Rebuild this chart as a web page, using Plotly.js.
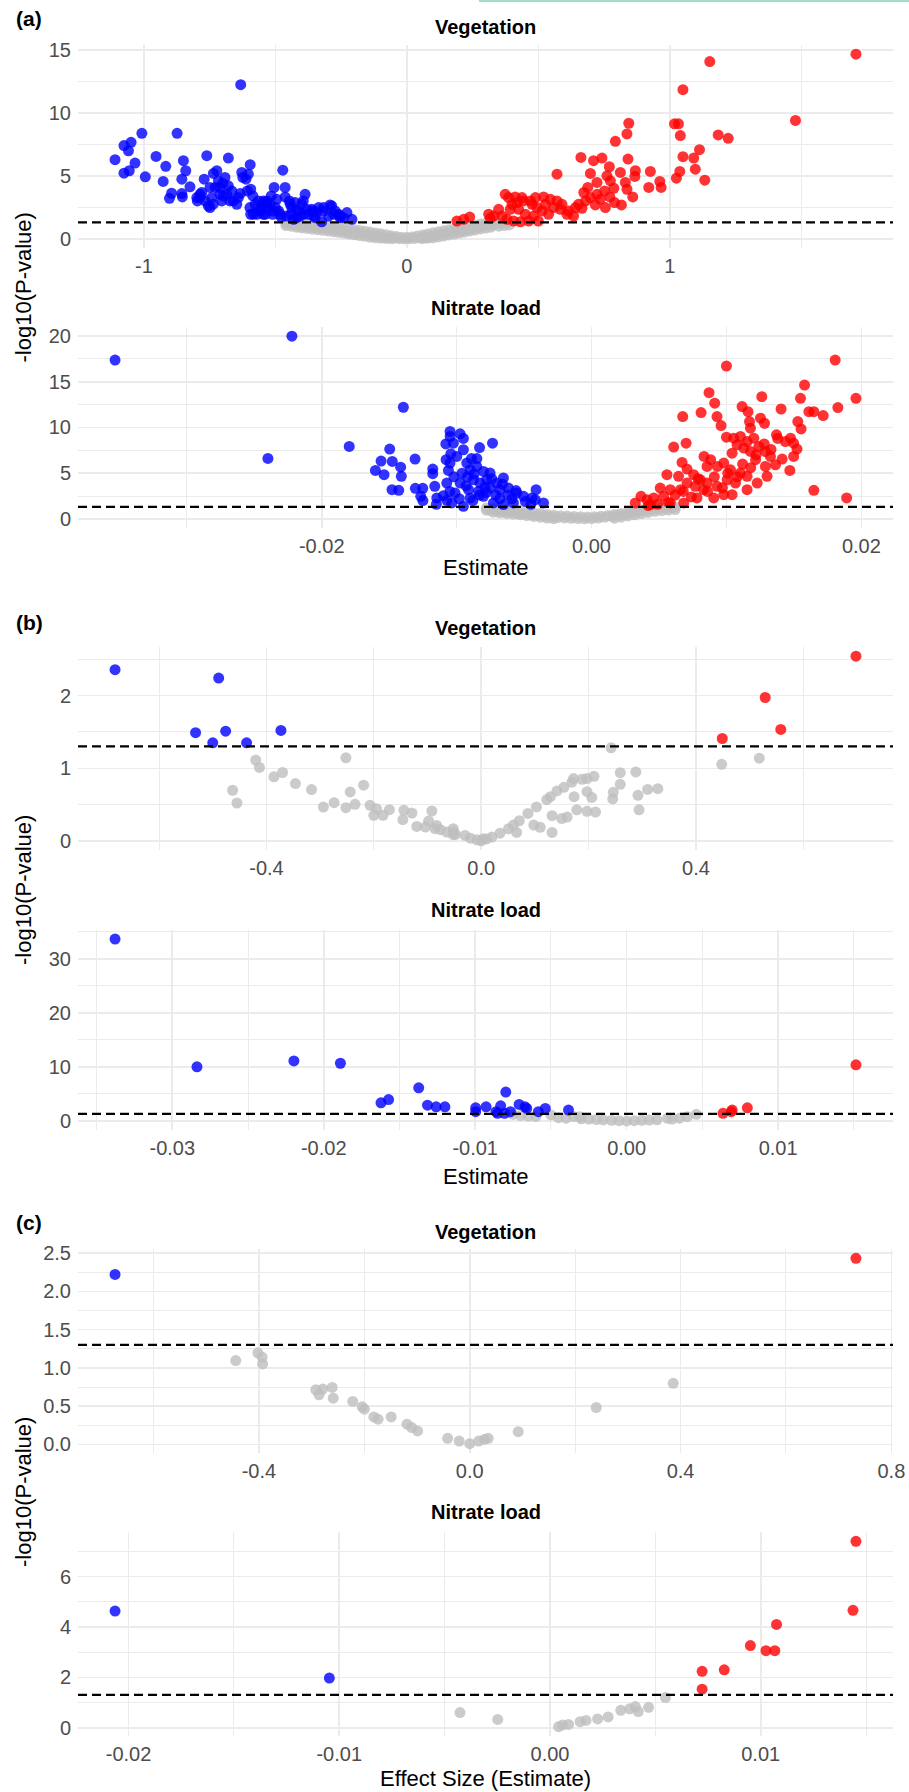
<!DOCTYPE html>
<html><head><meta charset="utf-8">
<script src="https://cdn.plot.ly/plotly-3.0.1.min.js"></script>
<style>html,body{margin:0;padding:0;background:#fff}#chart{width:909px;height:1792px}</style>
</head><body><div id="chart"></div>
<script>
// significance threshold (p = 0.05)
const THRESH = -Math.log10(0.05);

// ---------- (a) Vegetation ----------
const A_VEG_DOWN = [[-1.110,6.29],[-1.076,5.22],[-1.076,7.41],[-1.049,7.67],[-1.059,7.00],[-1.056,5.41],[-1.034,6.02],[-1.008,8.39],[-0.995,4.93],[-0.954,6.55],[-0.927,4.56],[-0.917,5.76],[-0.903,3.22],[-0.895,3.62],[-0.874,8.39],[-0.856,3.60],[-0.854,3.33],[-0.850,6.21],[-0.841,5.41],[-0.856,4.74],[-0.825,4.13],[-0.799,3.28],[-0.797,3.01],[-0.771,4.74],[-0.761,6.61],[-0.780,3.68],[-0.755,2.61],[-0.749,2.48],[-0.736,5.20],[-0.723,5.41],[-0.717,4.61],[-0.711,4.08],[-0.704,3.01],[-0.698,3.41],[-0.692,4.88],[-0.679,4.21],[-0.679,6.42],[-0.660,3.01],[-0.647,2.74],[-0.634,3.60],[-0.632,12.26],[-0.628,5.28],[-0.612,4.74],[-0.603,5.14],[-0.596,5.89],[-0.594,3.94],[-0.586,3.41],[-0.594,1.95],[-0.577,2.74],[-0.571,1.95],[-0.558,2.34],[-0.546,3.01],[-0.539,1.95],[-0.533,2.48],[-0.520,2.74],[-0.510,1.95],[-0.505,4.08],[-0.495,3.14],[-0.488,2.21],[-0.472,5.46],[-0.463,4.08],[-0.463,3.33],[-0.457,1.81],[-0.447,3.01],[-0.438,2.48],[-0.431,1.55],[-0.425,2.88],[-0.412,2.21],[-0.400,2.74],[-0.387,3.54],[-0.393,1.95],[-0.374,1.95],[-0.362,2.34],[-0.349,1.68],[-0.336,2.48],[-0.324,1.35],[-0.317,2.21],[-0.292,2.69],[-0.279,1.95],[-0.260,1.95],[-0.241,1.68],[-0.209,1.55],[-0.228,2.08],[-0.254,1.68],[-0.273,2.21],[-0.298,1.81],[-0.343,2.08],[-0.355,1.81],[-0.381,2.34],[-0.406,1.81],[-0.419,1.68],[-0.440,1.95],[-0.478,1.73],[-0.500,2.48],[-0.516,3.41],[-0.533,3.01],[-0.552,2.61],[-0.565,3.01],[-0.584,1.95],[-0.607,3.81],[-0.624,4.88],[-0.641,3.28],[-0.666,3.81],[-0.685,3.54],[-0.700,4.40],[-0.729,4.08],[-0.742,3.28],[-0.768,3.01],[-0.787,3.54],[-0.597,2.48],[-0.558,2.21],[-0.533,2.75],[-0.482,1.95],[-0.444,2.75],[-0.419,2.21],[-0.394,3.01],[-0.356,2.21],[-0.317,2.48],[-0.286,2.61],[-0.254,1.81],[-0.736,2.75],[-0.711,3.55],[-0.673,3.01],[-0.749,4.08],[-0.787,3.28],[-0.546,1.95],[-0.508,2.21]];
const A_VEG_UP = [[1.708,14.68],[1.152,14.10],[1.050,11.86],[1.478,9.41],[0.844,9.19],[0.837,8.34],[1.018,9.14],[1.033,9.14],[1.040,8.21],[1.184,8.26],[1.222,7.99],[0.793,7.75],[1.113,7.09],[1.050,6.53],[1.091,6.42],[0.662,6.47],[0.710,6.21],[0.742,6.42],[0.841,6.34],[0.770,5.73],[1.097,5.54],[1.038,5.36],[0.571,5.14],[0.698,5.20],[0.812,5.28],[0.869,5.41],[0.926,5.36],[1.025,4.82],[1.133,4.66],[0.761,5.01],[0.774,4.61],[0.723,4.48],[0.831,4.48],[0.867,4.96],[0.962,4.56],[0.967,4.08],[0.920,4.08],[0.688,4.08],[0.673,3.68],[0.787,4.02],[0.752,3.81],[0.837,3.94],[0.859,3.33],[0.723,3.54],[0.698,3.28],[0.717,2.69],[0.755,2.48],[0.790,2.88],[0.816,2.69],[0.653,2.74],[0.666,2.42],[0.634,1.81],[0.615,2.21],[0.374,3.54],[0.387,3.28],[0.412,3.33],[0.438,3.28],[0.470,3.01],[0.489,3.28],[0.520,3.33],[0.546,3.14],[0.571,3.01],[0.590,2.74],[0.349,2.34],[0.330,1.81],[0.362,1.81],[0.400,2.74],[0.425,2.34],[0.450,1.95],[0.463,1.41],[0.482,1.81],[0.500,1.41],[0.514,2.21],[0.539,1.95],[0.558,2.48],[0.527,2.74],[0.495,2.48],[0.476,2.74],[0.444,3.01],[0.419,2.88],[0.393,2.34],[0.311,1.95],[0.317,1.63],[0.239,1.73],[0.190,1.41],[0.216,1.55],[0.381,1.55],[0.406,1.41],[0.432,1.35],[0.609,1.95],[0.584,2.34],[0.641,2.48],[0.680,3.01],[0.736,3.14],[0.772,3.33]];
const A_VEG_NS = [[-0.46,1.25],[-0.46,1.05],[-0.44,1.35],[-0.45,1.2],[-0.44,1.0],[-0.42,1.3],[-0.43,1.12],[-0.42,0.92],[-0.40,1.27],[-0.41,1.07],[-0.40,0.87],[-0.38,1.22],[-0.39,1.02],[-0.38,0.82],[-0.36,1.17],[-0.37,0.97],[-0.36,0.77],[-0.34,1.12],[-0.35,0.92],[-0.34,0.72],[-0.32,1.07],[-0.33,0.87],[-0.32,0.67],[-0.30,1.02],[-0.31,0.82],[-0.30,0.62],[-0.28,0.96],[-0.29,0.76],[-0.28,0.56],[-0.26,0.91],[-0.27,0.71],[-0.26,0.51],[-0.24,0.85],[-0.25,0.65],[-0.24,0.45],[-0.22,0.78],[-0.23,0.58],[-0.22,0.38],[-0.20,0.72],[-0.21,0.52],[-0.20,0.32],[-0.18,0.66],[-0.19,0.46],[-0.18,0.26],[-0.16,0.6],[-0.17,0.4],[-0.16,0.2],[-0.14,0.53],[-0.15,0.33],[-0.14,0.13],[-0.12,0.46],[-0.13,0.26],[-0.12,0.08],[-0.10,0.4],[-0.11,0.2],[-0.10,0.05],[-0.08,0.32],[-0.09,0.14],[-0.08,0.03],[-0.06,0.25],[-0.07,0.09],[-0.06,0.02],[-0.04,0.18],[-0.05,0.05],[-0.02,0.12],[-0.03,0.02],[0.0,0.1],[-0.01,0.0],[0.01,0.01],[0.02,0.15],[0.03,0.03],[0.04,0.22],[0.05,0.07],[0.06,0.3],[0.07,0.12],[0.06,0.02],[0.08,0.38],[0.09,0.19],[0.08,0.05],[0.10,0.47],[0.11,0.27],[0.10,0.08],[0.12,0.55],[0.13,0.35],[0.12,0.15],[0.14,0.63],[0.15,0.43],[0.14,0.23],[0.16,0.71],[0.17,0.51],[0.16,0.31],[0.18,0.78],[0.19,0.58],[0.18,0.38],[0.20,0.86],[0.21,0.66],[0.20,0.46],[0.22,0.94],[0.23,0.74],[0.22,0.54],[0.24,1.02],[0.25,0.82],[0.24,0.62],[0.26,1.1],[0.27,0.9],[0.26,0.7],[0.28,1.18],[0.29,0.98],[0.28,0.78],[0.30,1.25],[0.31,1.05],[0.30,0.85],[0.32,1.3],[0.33,1.12],[0.32,0.92],[0.34,1.18],[0.35,1.0],[0.36,1.22],[0.37,1.05],[0.38,1.26],[0.39,1.1]];

// ---------- (a) Nitrate load ----------
const A_NIT_DOWN = [[-0.03532,17.37],[-0.02221,19.99],[-0.02399,6.61],[-0.01796,7.92],[-0.01395,12.21],[-0.01496,7.63],[-0.0156,6.32],[-0.01602,5.3],[-0.01538,4.83],[-0.01477,6.28],[-0.01415,5.66],[-0.0141,4.65],[-0.01479,3.19],[-0.01429,3.12],[-0.01308,6.54],[-0.01306,3.34],[-0.01251,3.34],[-0.01266,2.47],[-0.01177,5.45],[-0.01177,4.94],[-0.01162,3.56],[-0.01147,2.29],[-0.01073,2.03],[-0.01048,9.01],[-0.01043,7.12],[-0.01078,6.47],[-0.01061,5.3],[-0.01073,3.92],[-0.01098,2.54],[-0.01049,9.56],[-0.00974,9.3],[-0.01024,8.28],[-0.0095,7.56],[-0.00999,6.83],[-0.00925,6.1],[-0.01049,6.1],[-0.009,5.37],[-0.00851,5.74],[-0.00801,5.19],[-0.00752,5.01],[-0.00734,8.28],[-0.00875,4.28],[-0.00826,3.92],[-0.00777,4.28],[-0.00702,3.92],[-0.00653,4.47],[-0.00678,3.19],[-0.00616,3.37],[-0.00554,2.83],[-0.00504,2.47],[-0.00411,3.19],[-0.00442,2.29],[-0.00417,2.1],[-0.00356,1.74],[-0.00974,3.92],[-0.01012,2.83],[-0.0095,1.38],[-0.009,2.29],[-0.00801,2.47],[-0.00727,1.74],[-0.00653,1.56],[-0.00579,1.74],[-0.01036,1.74],[-0.00912,3.19],[-0.00838,3.01],[-0.00752,3.37],[-0.0092,4.6],[-0.0085,6.6],[-0.0095,8.8],[-0.0088,2.0],[-0.0078,2.9],[-0.0068,2.2],[-0.0062,2.6],[-0.0045,1.6],[-0.0102,4.6],[-0.0115,1.6],[-0.0125,2.0],[-0.0105,3.0],[-0.0098,2.2],[-0.0093,3.6],[-0.0087,4.9],[-0.0083,2.6],[-0.0079,3.5],[-0.0074,4.4],[-0.0071,2.6],[-0.0066,3.8],[-0.0059,2.2],[-0.0056,3.1],[-0.0049,1.9],[-0.0096,5.0],[-0.0089,6.6],[-0.0083,7.8],[-0.0108,8.2]];
const A_NIT_UP = [[0.01,16.72],[0.01806,17.37],[0.01579,14.64],[0.0196,13.19],[0.01549,13.19],[0.01262,13.37],[0.00871,13.81],[0.00913,12.65],[0.00676,11.19],[0.00812,11.63],[0.0093,11.19],[0.0096,10.21],[0.01116,12.28],[0.0116,11.73],[0.01405,12.02],[0.01611,11.73],[0.01648,11.73],[0.01717,11.3],[0.01826,12.17],[0.01252,11.01],[0.01282,10.46],[0.01171,10.64],[0.01178,9.92],[0.01529,10.64],[0.01553,9.84],[0.01371,9.19],[0.01475,8.83],[0.01437,8.46],[0.01498,8.28],[0.01523,7.63],[0.01498,6.83],[0.01413,6.54],[0.0147,5.3],[0.01,8.94],[0.01054,8.83],[0.01104,9.01],[0.01153,8.46],[0.01203,8.83],[0.0124,7.92],[0.01289,7.38],[0.01326,6.83],[0.01363,5.92],[0.01289,5.74],[0.01216,6.47],[0.01178,7.38],[0.01129,7.74],[0.01079,8.1],[0.01042,7.19],[0.0098,6.1],[0.0103,5.37],[0.01104,5.01],[0.01153,4.65],[0.01228,3.92],[0.01153,3.19],[0.00609,7.85],[0.00701,8.28],[0.00671,6.17],[0.00708,5.45],[0.00834,6.83],[0.00883,6.47],[0.00933,5.74],[0.00559,4.83],[0.00645,4.65],[0.00757,4.83],[0.00806,4.28],[0.00856,3.92],[0.0093,3.56],[0.01005,4.28],[0.01067,3.92],[0.01042,2.65],[0.0098,2.65],[0.00906,2.29],[0.00831,3.19],[0.00769,3.56],[0.00708,3.92],[0.0066,3.19],[0.00584,3.19],[0.00509,3.37],[0.00534,2.47],[0.00461,2.29],[0.00411,2.1],[0.00367,2.47],[0.00324,1.74],[0.00436,1.56],[0.00584,1.74],[0.00683,1.74],[0.00782,2.29],[0.01648,3.12],[0.01891,2.29],[0.00856,5.74],[0.01301,4.65],[0.0062,2.6],[0.0068,3.0],[0.0074,2.4],[0.0079,4.4],[0.0086,3.0],[0.0091,4.6],[0.0097,3.4],[0.0101,5.0],[0.0108,4.6],[0.0112,6.0],[0.0118,5.6],[0.0122,7.0],[0.0128,8.2],[0.0133,7.6],[0.0138,8.8],[0.0057,1.8],[0.0049,1.6],[0.0042,1.45]];
const A_NIT_NS = [[-0.0078,1.2],[-0.0078,0.95],[-0.0073,1.13],[-0.0075,0.93],[-0.0073,0.73],[-0.0068,1.06],[-0.007,0.86],[-0.0068,0.66],[-0.0063,0.99],[-0.0065,0.79],[-0.0063,0.59],[-0.0058,0.92],[-0.006,0.72],[-0.0058,0.52],[-0.0053,0.85],[-0.0055,0.65],[-0.0053,0.45],[-0.0048,0.76],[-0.005,0.56],[-0.0048,0.36],[-0.0043,0.67],[-0.0045,0.47],[-0.0043,0.27],[-0.0038,0.58],[-0.004,0.38],[-0.0038,0.18],[-0.0033,0.49],[-0.0035,0.29],[-0.0033,0.09],[-0.0028,0.4],[-0.003,0.2],[-0.0028,0.02],[-0.0023,0.35],[-0.0025,0.15],[-0.0018,0.3],[-0.002,0.1],[-0.0013,0.26],[-0.0015,0.06],[-0.0008,0.23],[-0.001,0.03],[-0.0003,0.2],[-0.0005,0.0],[0.0002,0.23],[0.0,0.03],[0.0007,0.29],[0.0005,0.09],[0.0012,0.38],[0.001,0.18],[0.0017,0.48],[0.0015,0.28],[0.0017,0.08],[0.0022,0.59],[0.002,0.39],[0.0022,0.19],[0.0027,0.72],[0.0025,0.52],[0.0027,0.32],[0.0032,0.85],[0.003,0.65],[0.0032,0.45],[0.0037,0.98],[0.0035,0.78],[0.0037,0.58],[0.0042,1.1],[0.004,0.9],[0.0042,0.7],[0.0047,1.22],[0.0045,1.02],[0.0047,0.82],[0.0052,1.25],[0.005,1.1],[0.0052,0.9],[0.0057,1.28],[0.0055,1.16],[0.0057,0.96],[0.0062,1.3],[0.006,1.22],[0.0062,1.02]];

// ---------- (b) Vegetation ----------
const B_VEG_DOWN = [[-0.682,2.355],[-0.489,2.24],[-0.532,1.49],[-0.476,1.51],[-0.5,1.35],[-0.437,1.35],[-0.373,1.52]];
const B_VEG_UP = [[0.698,2.54],[0.529,1.973],[0.558,1.535],[0.449,1.41]];
const B_VEG_NS = [[0.448,1.055],[0.518,1.14],[0.242,1.283],[0.259,0.94],[0.288,0.95],[0.259,0.78],[0.246,0.67],[0.245,0.58],[0.292,0.63],[0.31,0.71],[0.329,0.72],[0.294,0.43],[0.21,0.89],[0.197,0.86],[0.188,0.85],[0.172,0.86],[0.169,0.81],[0.154,0.74],[0.141,0.69],[0.129,0.61],[0.122,0.57],[0.197,0.68],[0.206,0.6],[0.173,0.61],[0.213,0.4],[0.197,0.41],[0.178,0.43],[0.16,0.33],[0.15,0.31],[0.132,0.35],[0.132,0.12],[0.11,0.19],[0.098,0.22],[0.103,0.47],[0.087,0.38],[0.071,0.28],[0.06,0.22],[0.066,0.12],[0.051,0.17],[0.035,0.11],[0.02,0.056],[0.004,0.033],[-0.008,0.019],[0.0,0.005],[-0.03,0.079],[-0.052,0.125],[-0.052,0.088],[-0.42,1.113],[-0.413,1.012],[-0.463,0.699],[-0.455,0.524],[-0.386,0.883],[-0.37,0.943],[-0.346,0.791],[-0.316,0.708],[-0.294,0.469],[-0.274,0.529],[-0.252,1.145],[-0.244,0.676],[-0.219,0.768],[-0.252,0.46],[-0.235,0.506],[-0.207,0.492],[-0.195,0.446],[-0.2,0.354],[-0.183,0.354],[-0.171,0.432],[-0.144,0.423],[-0.129,0.386],[-0.146,0.295],[-0.092,0.414],[-0.12,0.202],[-0.098,0.276],[-0.104,0.193],[-0.083,0.216],[-0.076,0.157],[-0.064,0.125],[-0.052,0.171],[-0.048,0.092],[-0.086,0.171],[-0.02,0.04],[0.01,0.03]];

// ---------- (b) Nitrate load ----------
const B_NIT_DOWN = [[-0.03378,33.64],[-0.02837,10.01],[-0.02197,11.1],[-0.0189,10.67],[-0.01373,6.13],[-0.01622,3.34],[-0.01572,3.94],[-0.01315,2.92],[-0.01258,2.61],[-0.012,2.61],[-0.00997,2.43],[-0.00928,2.61],[-0.00997,1.7],[-0.00863,1.7],[-0.00832,2.79],[-0.00798,5.34],[-0.00767,1.7],[-0.0071,3.04],[-0.00671,2.61],[-0.0066,2.31],[-0.00583,1.7],[-0.00537,2.31],[-0.00384,2.0],[-0.00852,1.4],[-0.00806,1.4]];
const B_NIT_UP = [[0.01514,10.37],[0.00636,1.4],[0.00697,2.0],[0.00797,2.43],[0.0069,1.7]];
const B_NIT_NS = [[-0.0075,1.2],[-0.007,1.0],[-0.0065,0.9],[-0.006,0.8],[-0.005,1.1],[-0.0045,0.6],[-0.004,0.5],[-0.0035,0.8],[-0.0031,0.79],[-0.003,0.4],[-0.0025,0.35],[-0.002,0.25],[-0.00155,0.19],[-0.001,0.1],[-0.0005,0.05],[0,0],[0.0005,0.05],[0.001,0.1],[0.0015,0.15],[0.002,0.2],[0.0027,0.49],[0.003,0.35],[0.0035,0.5],[0.004,0.79],[0.0046,1.22]];

// ---------- (c) Vegetation ----------
const C_VEG_DOWN = [[-0.673,2.223]];
const C_VEG_UP = [[0.7328,2.434]];
const C_VEG_NS = [[-0.444,1.096],[-0.402,1.197],[-0.394,1.14],[-0.393,1.052],[-0.292,0.714],[-0.279,0.723],[-0.286,0.648],[-0.261,0.745],[-0.259,0.604],[-0.222,0.561],[-0.204,0.491],[-0.2,0.46],[-0.182,0.359],[-0.174,0.329],[-0.149,0.359],[-0.119,0.263],[-0.11,0.219],[-0.099,0.175],[-0.042,0.079],[-0.02,0.043],[0.0,0.008],[0.017,0.043],[0.028,0.065],[0.035,0.079],[0.092,0.166],[0.24,0.482],[0.386,0.798]];

// ---------- (c) Nitrate load ----------
const C_NIT_DOWN = [[-0.02064,4.63],[-0.01047,1.97]];
const C_NIT_UP = [[0.01452,7.4],[0.01438,4.66],[0.01075,4.1],[0.00951,3.26],[0.01025,3.06],[0.01067,3.06],[0.00827,2.3],[0.00722,2.24],[0.00722,1.53]];
const C_NIT_NS = [[-0.00427,0.6],[-0.00248,0.33],[0.00041,0.04],[0.0006,0.11],[0.00088,0.13],[0.00143,0.24],[0.00171,0.29],[0.00226,0.35],[0.00276,0.43],[0.00336,0.69],[0.00378,0.75],[0.00405,0.84],[0.00419,0.64],[0.00468,0.81],[0.00548,1.2]];

// ---------- tick values & labels ----------
const A_VEG_XT = [-1,0,1], A_VEG_XL = ['-1','0','1'], A_VEG_XM = [-0.5,0.5,1.5];
const A_VEG_YT = [0,5,10,15], A_VEG_YL = ['0','5','10','15'], A_VEG_YM = [2.5,7.5,12.5];
const A_NIT_XT = [-0.02,0,0.02], A_NIT_XL = ['-0.02','0.00','0.02'], A_NIT_XM = [-0.03,-0.01,0.01];
const A_NIT_YT = [0,5,10,15,20], A_NIT_YL = ['0','5','10','15','20'], A_NIT_YM = [2.5,7.5,12.5,17.5];
const B_VEG_XT = [-0.4,0,0.4], B_VEG_XL = ['-0.4','0.0','0.4'], B_VEG_XM = [-0.6,-0.2,0.2,0.6];
const B_VEG_YT = [0,1,2], B_VEG_YL = ['0','1','2'], B_VEG_YM = [0.5,1.5,2.5];
const B_NIT_XT = [-0.03,-0.02,-0.01,0,0.01], B_NIT_XL = ['-0.03','-0.02','-0.01','0.00','0.01'], B_NIT_XM = [-0.035,-0.025,-0.015,-0.005,0.005,0.015];
const B_NIT_YT = [0,10,20,30], B_NIT_YL = ['0','10','20','30'], B_NIT_YM = [5,15,25,35];
const C_VEG_XT = [-0.4,0,0.4,0.8], C_VEG_XL = ['-0.4','0.0','0.4','0.8'], C_VEG_XM = [-0.6,-0.2,0.2,0.6];
const C_VEG_YT = [0,0.5,1,1.5,2,2.5], C_VEG_YL = ['0.0','0.5','1.0','1.5','2.0','2.5'], C_VEG_YM = [0.25,0.75,1.25,1.75,2.25];
const C_NIT_XT = [-0.02,-0.01,0,0.01], C_NIT_XL = ['-0.02','-0.01','0.00','0.01'], C_NIT_XM = [-0.015,-0.005,0.005,0.015];
const C_NIT_YT = [0,2,4,6], C_NIT_YL = ['0','2','4','6'], C_NIT_YM = [1,3,5,7];

const PANEL_TITLES = ['Vegetation','Nitrate load','Vegetation','Nitrate load','Vegetation','Nitrate load'];
const PANEL_LETTERS = ['(a)','(b)','(c)'];
const X_TITLES = ['Estimate','Estimate','Effect Size (Estimate)'];
const Y_TITLE = '-log10(P-value)';

// ---------- layout geometry (pixels) ----------
const W = 909, H = 1792;
const PL = 78, PR = 893;
const panels = [
  {ns:A_VEG_NS, dn:A_VEG_DOWN, up:A_VEG_UP, top:45,   bot:248,  xt:A_VEG_XT, xl:A_VEG_XL, xm:A_VEG_XM, yt:A_VEG_YT, yl:A_VEG_YL, ym:A_VEG_YM, ty:27},
  {ns:A_NIT_NS, dn:A_NIT_DOWN, up:A_NIT_UP, top:327,  bot:528,  xt:A_NIT_XT, xl:A_NIT_XL, xm:A_NIT_XM, yt:A_NIT_YT, yl:A_NIT_YL, ym:A_NIT_YM, ty:308},
  {ns:B_VEG_NS, dn:B_VEG_DOWN, up:B_VEG_UP, top:647,  bot:850,  xt:B_VEG_XT, xl:B_VEG_XL, xm:B_VEG_XM, yt:B_VEG_YT, yl:B_VEG_YL, ym:B_VEG_YM, ty:628},
  {ns:B_NIT_NS, dn:B_NIT_DOWN, up:B_NIT_UP, top:930,  bot:1130, xt:B_NIT_XT, xl:B_NIT_XL, xm:B_NIT_XM, yt:B_NIT_YT, yl:B_NIT_YL, ym:B_NIT_YM, ty:910},
  {ns:C_VEG_NS, dn:C_VEG_DOWN, up:C_VEG_UP, top:1249, bot:1453, xt:C_VEG_XT, xl:C_VEG_XL, xm:C_VEG_XM, yt:C_VEG_YT, yl:C_VEG_YL, ym:C_VEG_YM, ty:1232},
  {ns:C_NIT_NS, dn:C_NIT_DOWN, up:C_NIT_UP, top:1532, bot:1736, xt:C_NIT_XT, xl:C_NIT_XL, xm:C_NIT_XM, yt:C_NIT_YT, yl:C_NIT_YL, ym:C_NIT_YM, ty:1512}
];
const LETTER_Y = [18, 622, 1222];
const XTITLE_Y = [567, 1176, 1778];
const YTITLE_Y = [287.5, 890, 1492];

const FONT = '"Liberation Sans", Arial, sans-serif';
const px = p => p / W;
const py = p => 1 - p / H;

function expand(sets, k) {
  const v = sets.flatMap(s => s.map(p => p[k]));
  const mn = Math.min(...v), mx = Math.max(...v), w = mx - mn;
  return [mn - 0.05 * w, mx + 0.05 * w];
}

const traces = [], shapes = [], annotations = [];
const layout = {
  width: W, height: H, margin: {l:0, r:0, t:0, b:0},
  paper_bgcolor: '#fff', plot_bgcolor: '#fff', showlegend: false,
  font: {family: FONT}
};
const grp = [
  {key:'ns', color:'#bebebe'},
  {key:'dn', color:'#0000ff'},
  {key:'up', color:'#ff0000'}
];

panels.forEach((P, i) => {
  const n = i + 1, sx = n === 1 ? '' : String(n);
  grp.forEach(g => {
    traces.push({
      type:'scatter', mode:'markers', xaxis:'x'+sx, yaxis:'y'+sx,
      x: P[g.key].map(p => p[0]), y: P[g.key].map(p => p[1]),
      marker:{color:g.color, size:11, opacity:0.8, line:{width:0}},
      hoverinfo:'skip', showlegend:false
    });
  });
  const all = [P.ns, P.dn, P.up];
  const axCommon = {
    showgrid:true, gridcolor:'#ebebeb', gridwidth:1.6, zeroline:false, showline:false,
    ticks:'', tickmode:'array', tickfont:{family:FONT, size:20, color:'#4d4d4d'},
    fixedrange:true
  };
  layout['xaxis'+sx] = Object.assign({}, axCommon, {
    domain:[px(PL), px(PR)], anchor:'y'+sx, range:expand(all,0),
    tickvals:P.xt, ticktext:P.xl, ticklabelstandoff:4,
    minor:{tickmode:'array', tickvals:P.xm, showgrid:true, gridcolor:'#ebebeb', gridwidth:1}
  });
  layout['yaxis'+sx] = Object.assign({}, axCommon, {
    domain:[py(P.bot), py(P.top)], anchor:'x'+sx, range:expand(all,1),
    tickvals:P.yt, ticktext:P.yl, ticklabelstandoff:6,
    minor:{tickmode:'array', tickvals:P.ym, showgrid:true, gridcolor:'#ebebeb', gridwidth:1}
  });
  shapes.push({type:'line', xref:'x'+sx+' domain', yref:'y'+sx, x0:0, x1:1, y0:THRESH, y1:THRESH,
    line:{color:'#000', width:2.2, dash:'9px,5px'}, layer:'above'});
  annotations.push({text:'<b>'+PANEL_TITLES[i]+'</b>', xref:'paper', yref:'paper',
    x:px((PL+PR)/2), y:py(P.ty), xanchor:'center', yanchor:'middle', showarrow:false,
    font:{family:FONT, size:20, color:'#000'}});
});

[0,1,2].forEach(k => {
  annotations.push({text:'<b>'+PANEL_LETTERS[k]+'</b>', xref:'paper', yref:'paper',
    x:px(14), y:py(LETTER_Y[k]), xanchor:'left', yanchor:'middle', showarrow:false,
    font:{family:FONT, size:21, color:'#000'}});
  annotations.push({text:X_TITLES[k], xref:'paper', yref:'paper',
    x:px((PL+PR)/2), y:py(XTITLE_Y[k]), xanchor:'center', yanchor:'middle', showarrow:false,
    font:{family:FONT, size:22, color:'#000'}});
  annotations.push({text:Y_TITLE, xref:'paper', yref:'paper', textangle:-90,
    x:px(23), y:py(YTITLE_Y[k]), xanchor:'center', yanchor:'middle', showarrow:false,
    font:{family:FONT, size:22, color:'#000'}});
});

// thin mint strip at the very top right of the source image
shapes.push({type:'rect', xref:'paper', yref:'paper', x0:px(479), x1:1, y0:py(2), y1:1,
  line:{width:0}, fillcolor:'#a3dccd', layer:'above'});

layout.shapes = shapes;
layout.annotations = annotations;
Plotly.newPlot('chart', traces, layout, {displayModeBar:false, staticPlot:true});
</script>
</body></html>
